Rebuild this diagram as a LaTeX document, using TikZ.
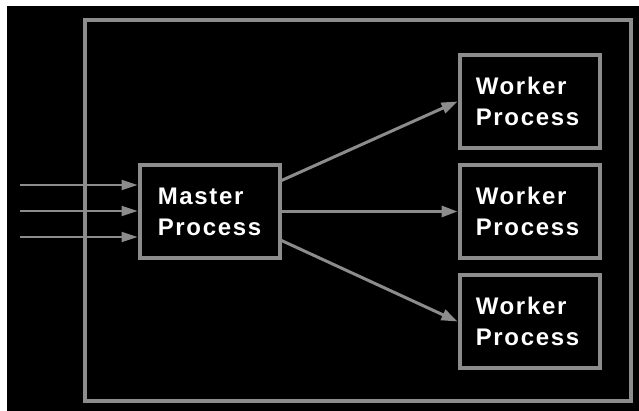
\documentclass[tikz,border=0pt]{standalone}
\usepackage{fontspec}
\setmainfont{Liberation Sans}
\usetikzlibrary{arrows.meta}
\definecolor{linegray}{RGB}{140,140,140}

\begin{document}
\begin{tikzpicture}[x=1pt,y=-1pt,
  procbox/.style={draw=linegray,line width=4pt,fill=black,text=white,
    minimum width=140pt,minimum height=93pt,inner sep=0pt,align=left,
    font=\fontsize{24}{31}\selectfont\bfseries\addfontfeatures{LetterSpace=7}},
  feed/.style={draw=linegray,line width=2pt,-{Triangle[length=16pt,width=10pt]}},
  fan/.style={draw=linegray,line width=3pt,-{Triangle[length=16pt,width=11pt]}}]
  \useasboundingbox (0,0) rectangle (639,411);
  \fill[white] (0,0) rectangle (639,411);
  \fill[black] (7,6) rectangle (639,411);
% outer frame
  \draw[linegray,line width=4pt] (84.5,20.5) rectangle (630.5,400.5);
% processes
  \node[procbox] (master) at (209.5,211.5) {Master\\Process};
  \node[procbox] (worker1) at (529.5,101.5) {Worker\\Process\hspace*{4pt}};
  \node[procbox] (worker2) at (529.5,211.5) {Worker\\Process\hspace*{4pt}};
  \node[procbox] (worker3) at (529.5,321.5) {Worker\\Process\hspace*{4pt}};
% incoming requests
  \coordinate (in1) at (20,185);
  \coordinate (in2) at (20,211);
  \coordinate (in3) at (20,237);
  \draw[feed] (in1) -- (in1 -| master.west);
  \draw[feed] (in2) -- (in2 -| master.west);
  \draw[feed] (in3) -- (in3 -| master.west);
% master to workers
  \draw[fan] ([yshift=31pt]master.east) -- (worker1.west);
  \draw[fan] (master.east) -- (worker2.west);
  \draw[fan] ([yshift=-29pt]master.east) -- (worker3.west);
\end{tikzpicture}
\end{document}
